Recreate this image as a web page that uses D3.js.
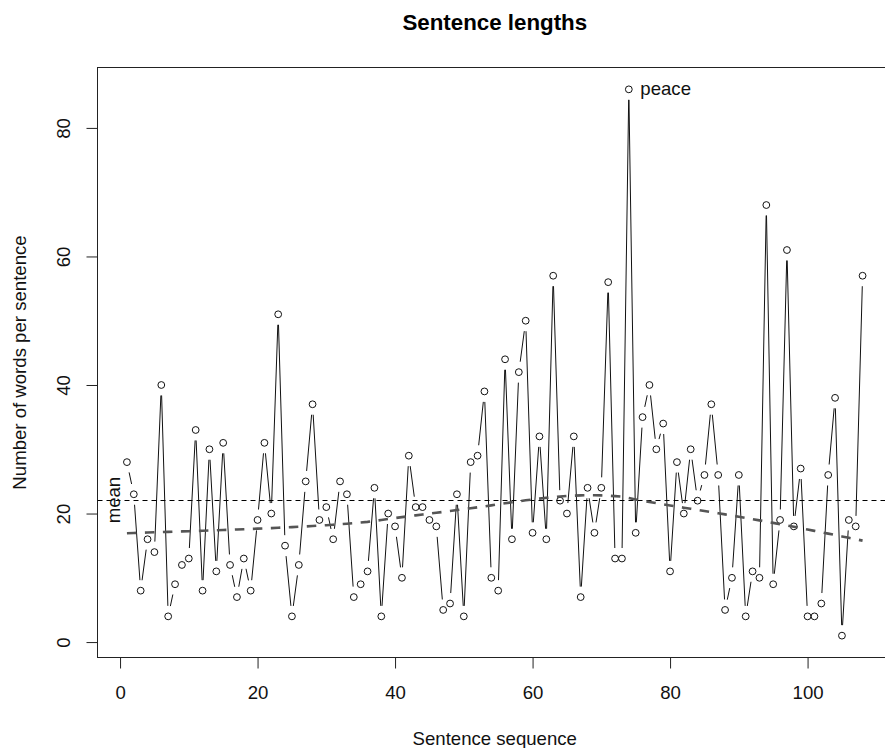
<!DOCTYPE html>
<html>
<head>
<meta charset="utf-8">
<script src="https://cdn.jsdelivr.net/npm/d3@7"></script>
<style>
  body { margin: 0; background: #fff; }
  svg { display: block; font-family: "Liberation Sans", Arial, sans-serif; }
</style>
</head>
<body>
<svg id="chart"></svg>
<script>

// number of words in each sentence, in text order
var wordCounts = [28, 23, 8, 16, 14, 40, 4, 9, 12, 13,
    33, 8, 30, 11, 31, 12, 7, 13, 8, 19,
    31, 20, 51, 15, 4, 12, 25, 37, 19, 21,
    16, 25, 23, 7, 9, 11, 24, 4, 20, 18,
    10, 29, 21, 21, 19, 18, 5, 6, 23, 4,
    28, 29, 39, 10, 8, 44, 16, 42, 50, 17,
    32, 16, 57, 22, 20, 32, 7, 24, 17, 24,
    56, 13, 13, 86, 17, 35, 40, 30, 34, 11,
    28, 20, 30, 22, 26, 37, 26, 5, 10, 26,
    4, 11, 10, 68, 9, 19, 61, 18, 27, 4,
    4, 6, 26, 38, 1, 19, 18, 57];
var xTicks = [0, 20, 40, 60, 80, 100];
var yTicks = [0, 20, 40, 60, 80];
var peakWord = "peace";
var peakIndex = 74;

var width = 885, height = 748;
var plot = { left: 97.5, right: 892, top: 67.5, bottom: 657.5 };
var baseFont = 18.6;

var seq = d3.range(1, wordCounts.length + 1);
var data = seq.map(function (s, i) { return { x: s, y: wordCounts[i] }; });

// R style axis range: data range plus 4% each side
function padded(ext) {
    var p = (ext[1] - ext[0]) * 0.04;
    return [ext[0] - p, ext[1] + p];
}

// lowess smoother (same steps as R's clowess, f = 2/3, 3 robustness passes)
function lowess(xs, ys, f, iter) {
    var n = xs.length;
    var ns = Math.max(2, Math.min(n, Math.floor(f * n + 1e-7)));
    var range = xs[n - 1] - xs[0];
    var fit = new Array(n).fill(0);
    var rw = new Array(n).fill(1);
    for (var it = 0; it <= iter; it++) {
        var nleft = 0, nright = ns - 1;
        for (var i = 0; i < n; i++) {
            while (nright < n - 1 && xs[i] - xs[nleft] > xs[nright + 1] - xs[i]) {
                nleft++; nright++;
            }
            var h = Math.max(xs[i] - xs[nleft], xs[nright] - xs[i]);
            var h9 = 0.999 * h, h1 = 0.001 * h;
            var w = new Array(n).fill(0), sw = 0;
            for (var j = 0; j < n; j++) {
                var r = Math.abs(xs[j] - xs[i]);
                if (r <= h9) {
                    w[j] = (r <= h1 ? 1 : Math.pow(1 - Math.pow(r / h, 3), 3)) * rw[j];
                    sw += w[j];
                }
            }
            if (sw <= 0) { fit[i] = ys[i]; continue; }
            for (j = 0; j < n; j++) w[j] /= sw;
            if (h > 0) {
                var a = 0;
                for (j = 0; j < n; j++) a += w[j] * xs[j];
                var b = 0;
                for (j = 0; j < n; j++) b += w[j] * (xs[j] - a) * (xs[j] - a);
                if (Math.sqrt(b) > 0.001 * range) {
                    b = (xs[i] - a) / b;
                    for (j = 0; j < n; j++) w[j] *= (b * (xs[j] - a) + 1);
                }
            }
            var v = 0;
            for (j = 0; j < n; j++) v += w[j] * ys[j];
            fit[i] = v;
        }
        if (it === iter) break;
        var res = ys.map(function (yv, k) { return Math.abs(yv - fit[k]); });
        var cmad = 6 * d3.median(res);
        if (cmad < 1e-7 * d3.mean(ys.map(Math.abs))) break;
        for (i = 0; i < n; i++) {
            var rr = res[i];
            rw[i] = rr <= 0.001 * cmad ? 1 : (rr > 0.999 * cmad ? 0 : Math.pow(1 - Math.pow(rr / cmad, 2), 2));
        }
    }
    return fit;
}

var svg = d3.select("#chart")
    .attr("width", width)
    .attr("height", height);

var x = d3.scaleLinear()
    .domain(padded(d3.extent(seq)))
    .range([plot.left, plot.right]);

var y = d3.scaleLinear()
    .domain(padded(d3.extent(wordCounts)))
    .range([plot.bottom, plot.top]);

// title
svg.append("text")
    .attr("x", (plot.left + plot.right) / 2)
    .attr("y", 29.5)
    .attr("text-anchor", "middle")
    .attr("font-weight", "bold")
    .attr("font-size", baseFont * 1.2)
    .attr("fill", "#000")
    .text("Sentence lengths");

// x axis
var xAxis = svg.append("g")
    .attr("transform", "translate(0," + plot.bottom + ")")
    .call(d3.axisBottom(x).tickValues(xTicks).tickSize(11).tickPadding(17.5));
xAxis.select(".domain").remove();
xAxis.attr("font-size", baseFont).attr("font-family", null);
xAxis.selectAll("line").attr("stroke", "#222");
xAxis.selectAll("text").attr("fill", "#111");

// y axis, labels turned parallel to the axis
var yAxis = svg.append("g")
    .attr("transform", "translate(" + plot.left + ",0)")
    .call(d3.axisLeft(y).tickValues(yTicks).tickSize(11));
yAxis.select(".domain").remove();
yAxis.attr("font-size", baseFont).attr("font-family", null);
yAxis.selectAll("line").attr("stroke", "#222");
yAxis.selectAll("text")
    .attr("x", null)
    .attr("dy", null)
    .attr("fill", "#111")
    .attr("text-anchor", "middle")
    .attr("transform", "translate(-27.5,0) rotate(-90)");

// frame
svg.append("rect")
    .attr("x", plot.left)
    .attr("y", plot.top)
    .attr("width", plot.right - plot.left)
    .attr("height", plot.bottom - plot.top)
    .attr("fill", "none")
    .attr("stroke", "#222")
    .attr("stroke-width", 1);

// axis titles
svg.append("text")
    .attr("x", (plot.left + plot.right) / 2)
    .attr("y", 745)
    .attr("text-anchor", "middle")
    .attr("font-size", baseFont)
    .attr("fill", "#111")
    .text("Sentence sequence");

svg.append("text")
    .attr("transform", "translate(26," + ((plot.top + plot.bottom) / 2) + ") rotate(-90)")
    .attr("text-anchor", "middle")
    .attr("font-size", baseFont)
    .attr("fill", "#111")
    .text("Number of words per sentence");

svg.append("clipPath")
    .attr("id", "plot-clip")
    .append("rect")
    .attr("x", plot.left)
    .attr("y", plot.top)
    .attr("width", plot.right - plot.left)
    .attr("height", plot.bottom - plot.top);

var inner = svg.append("g").attr("clip-path", "url(#plot-clip)");

// lines between points, broken near each circle (type "b")
var gap = 10.5;
var segs = [];
for (var i = 1; i < data.length; i++) {
    var x0 = x(data[i - 1].x), y0 = y(data[i - 1].y);
    var x1 = x(data[i].x), y1 = y(data[i].y);
    var dist = Math.hypot(x1 - x0, y1 - y0);
    if (dist > 2 * gap) {
        var ux = gap * (x1 - x0) / dist, uy = gap * (y1 - y0) / dist;
        segs.push([x0 + ux, y0 + uy, x1 - ux, y1 - uy]);
    }
}

inner.selectAll("line.seg")
    .data(segs)
    .enter()
    .append("line")
    .attr("class", "seg")
    .attr("x1", function (d) { return d[0]; })
    .attr("y1", function (d) { return d[1]; })
    .attr("x2", function (d) { return d[2]; })
    .attr("y2", function (d) { return d[3]; })
    .attr("stroke", "#111")
    .attr("stroke-width", 1);

inner.selectAll("circle")
    .data(data)
    .enter()
    .append("circle")
    .attr("cx", function (d) { return x(d.x); })
    .attr("cy", function (d) { return y(d.y); })
    .attr("r", 3.4)
    .attr("fill", "none")
    .attr("stroke", "#111")
    .attr("stroke-width", 1);

// mean line (snapped to a pixel row so it stays crisp)
var meanWords = d3.mean(wordCounts);
var meanY = Math.round(y(meanWords)) + 0.5;
inner.append("line")
    .attr("x1", plot.left)
    .attr("x2", plot.right)
    .attr("y1", meanY)
    .attr("y2", meanY)
    .attr("stroke", "#000")
    .attr("stroke-width", 1)
    .attr("stroke-dasharray", "5,4");

svg.append("text")
    .attr("transform", "translate(" + x(0) + "," + y(meanWords) + ") rotate(-90)")
    .attr("text-anchor", "middle")
    .attr("font-size", baseFont)
    .attr("fill", "#111")
    .text("mean");

// lowess trend
var smooth = lowess(seq, wordCounts, 2 / 3, 3);
inner.append("path")
    .datum(seq.map(function (s, i) { return [s, smooth[i]]; }))
    .attr("fill", "none")
    .attr("stroke", "#555")
    .attr("stroke-width", 2.6)
    .attr("stroke-dasharray", "9.5,8.5")
    .attr("d", d3.line()
        .x(function (d) { return x(d[0]); })
        .y(function (d) { return y(d[1]); }));

// the longest sentence
svg.append("text")
    .attr("x", x(peakIndex) + 11.5)
    .attr("y", y(wordCounts[peakIndex - 1]) + 5.5)
    .attr("font-size", baseFont)
    .attr("fill", "#111")
    .text(peakWord);

</script>
</body>
</html>
